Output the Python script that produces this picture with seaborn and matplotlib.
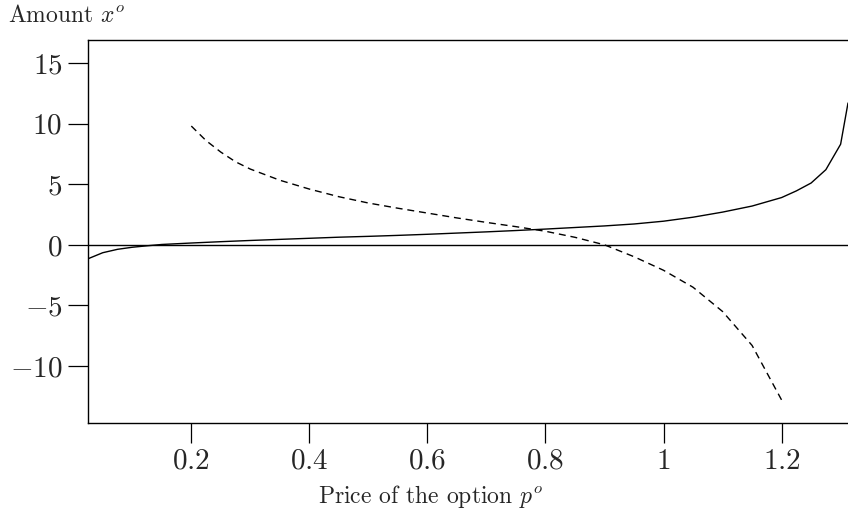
import matplotlib
matplotlib.use("Agg")
import matplotlib.pyplot as plt
import seaborn as sns
import pandas as pd

# Data
price_solid = [0.025, 0.05, 0.075, 0.1, 0.125, 0.15, 0.2, 0.25, 0.3, 0.35, 0.4, 0.45,
               0.5, 0.55, 0.6, 0.65, 0.7, 0.75, 0.8, 0.85, 0.9, 0.95, 1.0, 1.05, 1.1,
               1.15, 1.2, 1.225, 1.25, 1.275, 1.3, 1.3125]
amount_solid = [-1.15, -0.65, -0.37, -0.2, -0.08, 0.03, 0.15, 0.26, 0.36, 0.45, 0.54, 0.63,
                0.7, 0.78, 0.87, 0.97, 1.07, 1.18, 1.3, 1.43, 1.56, 1.72, 1.95, 2.28, 2.7,
                3.2, 3.9, 4.45, 5.1, 6.2, 8.3, 11.7]

price_dashed = [0.2, 0.225, 0.25, 0.275, 0.3, 0.35, 0.4, 0.45, 0.5, 0.55, 0.6, 0.65, 0.7,
                0.75, 0.8, 0.85, 0.9, 0.95, 1.0, 1.05, 1.1, 1.15, 1.2]
amount_dashed = [9.8, 8.6, 7.65, 6.85, 6.25, 5.33, 4.6, 3.97, 3.45, 3.02, 2.62, 2.22, 1.85,
                 1.5, 1.12, 0.62, 0.0, -0.98, -2.1, -3.5, -5.5, -8.3, -12.8]

xticks = [0.2, 0.4, 0.6, 0.8, 1.0, 1.2]
xtick_labels = ["0.2", "0.4", "0.6", "0.8", "1", "1.2"]
yticks = [-10, -5, 0, 5, 10, 15]
ytick_labels = ["-10", "-5", "0", "5", "10", "15"]

sns.set_style("ticks")
plt.rcParams["font.family"] = ["cmr10"]
plt.rcParams["mathtext.fontset"] = "cm"
plt.rcParams["axes.unicode_minus"] = True

df_solid = pd.DataFrame({"price": price_solid, "amount": amount_solid})
df_dashed = pd.DataFrame({"price": price_dashed, "amount": amount_dashed})

fig = plt.figure(figsize=(8.48, 5.14), dpi=100)
ax = fig.add_axes([88 / 848, 91 / 514, 760 / 848, 383 / 514])

ax.axhline(0, color="black", lw=1.0, zorder=1)
sns.lineplot(data=df_solid, x="price", y="amount", ax=ax, color="black", lw=1.0)
sns.lineplot(data=df_dashed, x="price", y="amount", ax=ax, color="black", lw=1.0)
ax.lines[-1].set_dashes([5, 3.5])

ax.set_xlim(0.025, 1.3125)
ax.set_ylim(-14.7, 16.9)

ax.set_xticks(xticks, labels=["$" + t + "$" for t in xtick_labels])
ax.set_yticks(yticks, labels=["$" + t + "$" for t in ytick_labels])
ax.tick_params(axis="both", direction="out", length=14.4, width=0.9, labelsize=21,
               pad=4, color="black")

for side in ["left", "top", "bottom"]:
    ax.spines[side].set_linewidth(1.0)
    ax.spines[side].set_color("black")
ax.spines["right"].set_visible(False)

ax.set_xlabel("Price of the option $p^o$", fontsize=17)
ax.xaxis.set_label_coords(0.451, -0.156)
ax.set_ylabel("Amount $x^o$", fontsize=17, rotation=0, ha="left", va="baseline")
ax.yaxis.set_label_coords(-0.105, 1.047)

plt.savefig("out.png", dpi=100)
plt.close()
